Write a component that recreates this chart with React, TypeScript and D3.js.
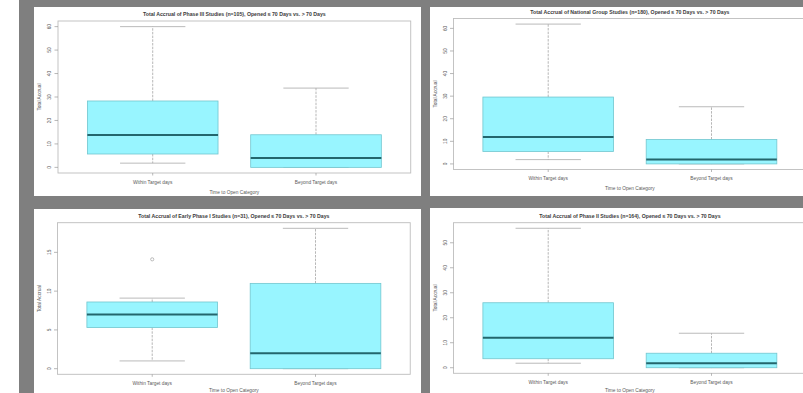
import React from "react";
import * as d3 from "d3";

const W = 803;
const H = 393;

const categories = ["Within Target days", "Beyond Target days"];
const xAxisTitle = "Time to Open Category";
const yAxisTitle = "Total Accrual";

const titles = [
  "Total Accrual of Phase III Studies (n=105), Opened \u2264 70 Days vs. > 70 Days",
  "Total Accrual of National Group Studies (n=180), Opened \u2264 70 Days vs. > 70 Days",
  "Total Accrual of Early Phase I Studies (n=31), Opened \u2264 70 Days vs. > 70 Days",
  "Total Accrual of Phase II Studies (n=164), Opened \u2264 70 Days vs. > 70 Days",
];

// five-number summaries: [lower whisker, Q1, median, Q3, upper whisker]
const phase3Within = [1.8, 5.7, 13.8, 28.3, 60];
const phase3Beyond = [0, 0, 4, 13.9, 33.8];
const phase3Ticks = [0, 10, 20, 30, 40, 50, 60];
const phase3Outliers = [[], []];

const nationalWithin = [1.9, 5.5, 11.9, 29.6, 61.9];
const nationalBeyond = [0, 0, 1.9, 10.8, 25.3];
const nationalTicks = [0, 10, 20, 30, 40, 50, 60];
const nationalOutliers = [[], []];

const earlyWithin = [1, 5.3, 7, 8.6, 9.1];
const earlyBeyond = [0, 0, 2, 11, 18.1];
const earlyTicks = [0, 5, 10, 15];
const earlyOutliers = [[14.1], []];

const phase2Within = [1.8, 3.6, 12, 26, 55.8];
const phase2Beyond = [0, 0, 1.8, 5.8, 13.8];
const phase2Ticks = [0, 10, 20, 30, 40, 50];
const phase2Outliers = [[], []];

type PanelProps = {
  frame: { left: number; top: number; bottom: number };
  title: string;
  stats: number[][];
  ticks: number[];
  outliers: number[][];
};

const TEXT = "#5a5a5a";
const FONT = "Liberation Sans, Arial, sans-serif";

function Panel({ frame, title, stats, ticks, outliers }: PanelProps) {
  const unit = 163.3;
  const x = d3
    .scaleLinear()
    .domain([0.42, 2.58])
    .range([frame.left, frame.left + 2.16 * unit]);
  const all = stats.flat().concat(outliers.flat());
  const lo = d3.min(all) as number;
  const hi = d3.max(all) as number;
  const pad = (hi - lo) * 0.04;
  const y = d3.scaleLinear().domain([lo - pad, hi + pad]).range([frame.bottom, frame.top]);
  const [x0, x1] = x.range();
  const cx = (x0 + x1) / 2;
  const cy = (frame.top + frame.bottom) / 2;
  const boxW = 0.4;
  const stapW = 0.2;
  const xTitleY = Math.min(frame.bottom + 20.5, H - 1.5);
  return (
    <g>
      <text
        x={cx}
        y={frame.top - 5}
        textAnchor="middle"
        fontSize={5.2}
        fontWeight="bold"
        fill="#3a3a3a"
        fontFamily={FONT}
      >
        {title}
      </text>
      <rect
        x={x0}
        y={frame.top}
        width={x1 - x0}
        height={frame.bottom - frame.top}
        fill="none"
        stroke="#bdbdbd"
        strokeWidth={0.9}
      />
      {ticks.map((t) => (
        <g key={t}>
          <line x1={x0 - 3.5} x2={x0} y1={y(t)} y2={y(t)} stroke="#9a9a9a" strokeWidth={0.7} />
          <text
            transform={`translate(${x0 - 7},${y(t)}) rotate(-90)`}
            textAnchor="middle"
            fontSize={4.8}
            fill={TEXT}
            fontFamily={FONT}
          >
            {t}
          </text>
        </g>
      ))}
      <text
        transform={`translate(${x0 - 17},${cy}) rotate(-90)`}
        textAnchor="middle"
        fontSize={4.8}
        fill={TEXT}
        fontFamily={FONT}
      >
        {yAxisTitle}
      </text>
      {stats.map((s, i) => {
        const c = x(i + 1);
        const [mn, q1, md, q3, mx] = s;
        return (
          <g key={i}>
            <line x1={c} x2={c} y1={y(q3)} y2={y(mx)} stroke="#a5a5a5" strokeWidth={0.8} strokeDasharray="2.5 1.2" />
            <line x1={c} x2={c} y1={y(q1)} y2={y(mn)} stroke="#a5a5a5" strokeWidth={0.8} strokeDasharray="2.5 1.2" />
            <line x1={x(i + 1 - stapW)} x2={x(i + 1 + stapW)} y1={y(mx)} y2={y(mx)} stroke="#a8a8a8" strokeWidth={0.8} />
            <line x1={x(i + 1 - stapW)} x2={x(i + 1 + stapW)} y1={y(mn)} y2={y(mn)} stroke="#a8a8a8" strokeWidth={0.8} />
            <rect
              x={x(i + 1 - boxW)}
              y={y(q3)}
              width={x(i + 1 + boxW) - x(i + 1 - boxW)}
              height={y(q1) - y(q3)}
              fill="#98F5FF"
              stroke="#72c6cf"
              strokeWidth={0.8}
            />
            <line
              x1={x(i + 1 - boxW)}
              x2={x(i + 1 + boxW)}
              y1={y(md)}
              y2={y(md)}
              stroke="#23666d"
              strokeWidth={2}
            />
            {outliers[i].map((o, k) => (
              <circle key={k} cx={c} cy={y(o)} r={1.6} fill="none" stroke="#a0a0a0" strokeWidth={0.7} />
            ))}
            <line x1={c} x2={c} y1={frame.bottom} y2={frame.bottom + 2.5} stroke="#9a9a9a" strokeWidth={0.7} />
            <text
              x={c}
              y={frame.bottom + 10.5}
              textAnchor="middle"
              fontSize={4.8}
              fill={TEXT}
              fontFamily={FONT}
            >
              {categories[i]}
            </text>
          </g>
        );
      })}
      <text
        x={cx}
        y={xTitleY}
        textAnchor="middle"
        fontSize={4.8}
        fill={TEXT}
        fontFamily={FONT}
      >
        {xAxisTitle}
      </text>
    </g>
  );
}

export default function App() {
  return (
    <svg
      width={W}
      height={H}
      style={{ position: "absolute", left: 0, top: 0, display: "block" }}
    >
      <rect x={0} y={0} width={W} height={H} fill="#7f7f7f" />
      <rect x={0} y={0} width={19} height={H} fill="#ffffff" />
      <rect x={34} y={7} width={387} height={189} fill="#ffffff" />
      <rect x={430} y={7} width={W - 430} height={189} fill="#ffffff" />
      <rect x={34} y={209} width={387} height={H - 209} fill="#ffffff" />
      <rect x={430} y={208} width={W - 430} height={H - 208} fill="#ffffff" />
      <Panel
        frame={{ left: 58, top: 21, bottom: 173 }}
        title={titles[0]}
        stats={[phase3Within, phase3Beyond]}
        ticks={phase3Ticks}
        outliers={phase3Outliers}
      />
      <Panel
        frame={{ left: 453.5, top: 18.5, bottom: 169.5 }}
        title={titles[1]}
        stats={[nationalWithin, nationalBeyond]}
        ticks={nationalTicks}
        outliers={nationalOutliers}
      />
      <Panel
        frame={{ left: 57.5, top: 222.7, bottom: 374.3 }}
        title={titles[2]}
        stats={[earlyWithin, earlyBeyond]}
        ticks={earlyTicks}
        outliers={earlyOutliers}
      />
      <Panel
        frame={{ left: 453.5, top: 222.7, bottom: 373.3 }}
        title={titles[3]}
        stats={[phase2Within, phase2Beyond]}
        ticks={phase2Ticks}
        outliers={phase2Outliers}
      />
    </svg>
  );
}
